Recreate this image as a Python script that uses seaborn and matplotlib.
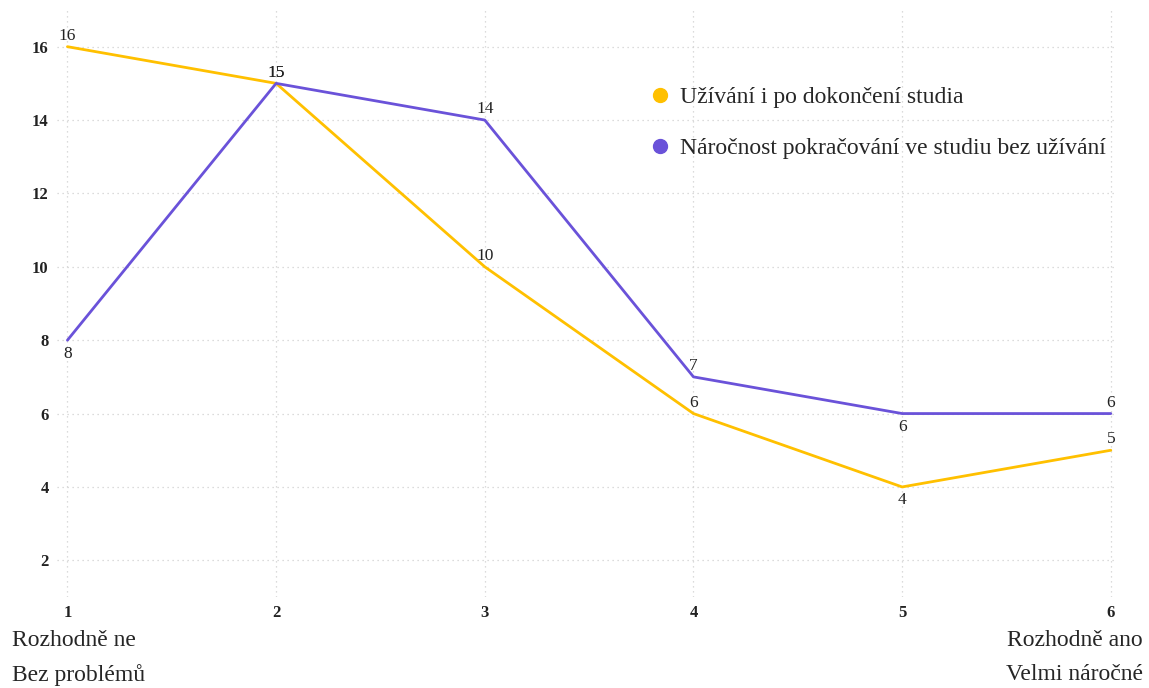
import matplotlib
matplotlib.use("Agg")
import matplotlib.pyplot as plt
from matplotlib.lines import Line2D
import seaborn as sns
import pandas as pd

scale = [1, 2, 3, 4, 5, 6]
series_names = ["Užívání i po dokončení studia",
                "Náročnost pokračování ve studiu bez užívání"]
uzivani = [16, 15, 10, 6, 4, 5]
narocnost = [8, 15, 14, 7, 6, 6]
colors = ["#FFC000", "#6A52D9"]
# label placement per point: +1 above, -1 below
uzivani_pos = [1, 1, 1, 1, -1, 1]
narocnost_pos = [-1, 1, 1, 1, -1, 1]
y_ticks = [2, 4, 6, 8, 10, 12, 14, 16]

sns.set_theme(style="white")
plt.rcParams["font.family"] = ["Liberation Serif", "DejaVu Serif"]

df = pd.DataFrame({
    "x": scale * 2,
    "value": uzivani + narocnost,
    "series": [series_names[0]] * 6 + [series_names[1]] * 6,
})

fig = plt.figure(figsize=(11.49, 6.88), dpi=100)
ax = fig.add_axes([57 / 1149, 1 - 597 / 688, (1115 - 57) / 1149, (597 - 10) / 688])

sns.lineplot(data=df, x="x", y="value", hue="series", palette=colors,
             linewidth=2, ax=ax, legend=False, sort=False)

for vals, pos in ((uzivani, uzivani_pos), (narocnost, narocnost_pos)):
    for xv, yv, p in zip(scale, vals, pos):
        ax.annotate(str(yv), (xv, yv), xytext=(0, 2 if p > 0 else -4),
                    textcoords="offset points", ha="center",
                    va="bottom" if p > 0 else "top", fontsize=12.5,
                    color="#222222")

ax.set_xlim(0.95, 6.02)
ax.set_ylim(1, 17)
ax.set_xticks(scale)
ax.set_yticks(y_ticks)
ax.set_xlabel("")
ax.set_ylabel("")
for s in ax.spines.values():
    s.set_visible(False)
ax.grid(True, linestyle=(0, (1, 3)), color="#d0d0d0", linewidth=0.9)
ax.tick_params(axis="both", length=0, labelsize=12, colors="#222222")
ax.tick_params(axis="y", pad=6)
ax.tick_params(axis="x", pad=6)
for lbl in ax.get_xticklabels() + ax.get_yticklabels():
    lbl.set_fontweight("bold")

handles = [Line2D([], [], linestyle="none", marker="o", markersize=10,
                  markerfacecolor=c, markeredgecolor=c) for c in colors]
ax.legend(handles, series_names, loc="upper left",
          bbox_to_anchor=(639 / 1149, 1 - 77 / 688), bbox_transform=fig.transFigure,
          frameon=False, fontsize=17, labelspacing=1.24, handletextpad=0.34,
          handlelength=1.0, borderaxespad=0)

fig.text(12 / 1149, 1 - 640 / 688, "Rozhodně ne", fontsize=17, va="center", ha="left")
fig.text(12 / 1149, 1 - 675 / 688, "Bez problémů", fontsize=17, va="center", ha="left")
fig.text(1143 / 1149, 1 - 640 / 688, "Rozhodně ano", fontsize=17, va="center", ha="right")
fig.text(1143 / 1149, 1 - 675 / 688, "Velmi náročné", fontsize=17, va="center", ha="right")

fig.savefig("out.png", dpi=100)
